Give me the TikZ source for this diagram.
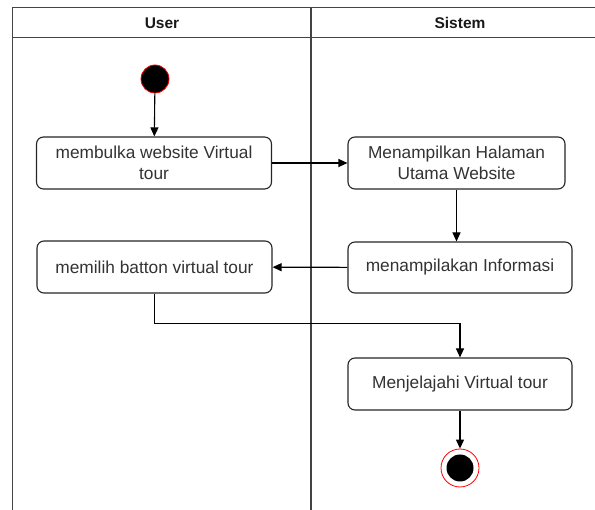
\documentclass[tikz,border=0pt]{standalone}
\usepackage{fontspec}
\setmainfont{Liberation Sans}
\usetikzlibrary{arrows.meta,positioning}
\definecolor{lanegray}{HTML}{444444}
\definecolor{txtgray}{HTML}{333333}
\definecolor{startred}{HTML}{FF0000}
\tikzset{
  act/.style={draw=black!85, line width=1.1pt, rounded corners=7pt, fill=white,
    text=txtgray, align=center, font=\fontsize{17.3}{21}\selectfont, inner sep=0pt},
  lane/.style={draw=lanegray, line width=1.3pt},
  flow/.style={draw=black, line width=1.1pt, -{Triangle[length=9pt,width=8pt]}},
  hdr/.style={font=\fontsize{15.5}{18}\selectfont\bfseries, text=black!90}
}
\begin{document}
\begin{tikzpicture}[x=1pt,y=-1pt]
\useasboundingbox (0,0) rectangle (595,510);
% swimlanes
\draw[lane] (12.5,510) -- (12.5,7.5) -- (600,7.5);
\draw[lane] (12.5,37.5) -- (600,37.5);
\draw[lane] (311,7.5) -- (311,510);
\node[hdr] (huser) at (162,23) {User};
\node[hdr] (hsys) at (460,23) {Sistem};
% start
\node[circle, fill=black, draw=startred, line width=0.8pt, minimum size=28pt, inner sep=0pt] (start) at (155,79) {};
% activities
\node[act, minimum width=235pt, minimum height=52pt] (a1) at (154,163) {membulka website Virtual\\tour};
\node[act, minimum width=217pt, minimum height=52pt] (a3) at (456.5,163) {Menampilkan Halaman\\Utama Website};
\node[act, minimum width=235pt, minimum height=52pt] (a2) at (154.5,267) {memilih batton virtual tour};
\node[act, minimum width=224pt, minimum height=51pt] (a4) at (460,267.5) {menampilakan Informasi};
\node[act, minimum width=224pt, minimum height=52pt] (a5) at (460,384) {Menjelajahi Virtual tour};
% end
\node[circle, draw=startred, line width=0.8pt, fill=white, minimum size=38pt, inner sep=0pt] (endo) at (460,468) {};
\node[circle, fill=black, minimum size=27pt, inner sep=0pt] (endi) at (endo.center) {};
% flows
\draw[flow] (start) -- (a1);
\draw[flow] (a1) -- (a3);
\draw[flow] (a3.south) -- (a3.south |- a4.north);
\draw[flow] (a4) -- (a2);
\draw[flow] (a2.south) -- ++(0,30) -| (a5.north);
\draw[flow] (a5) -- (endo);
\end{tikzpicture}
\end{document}
